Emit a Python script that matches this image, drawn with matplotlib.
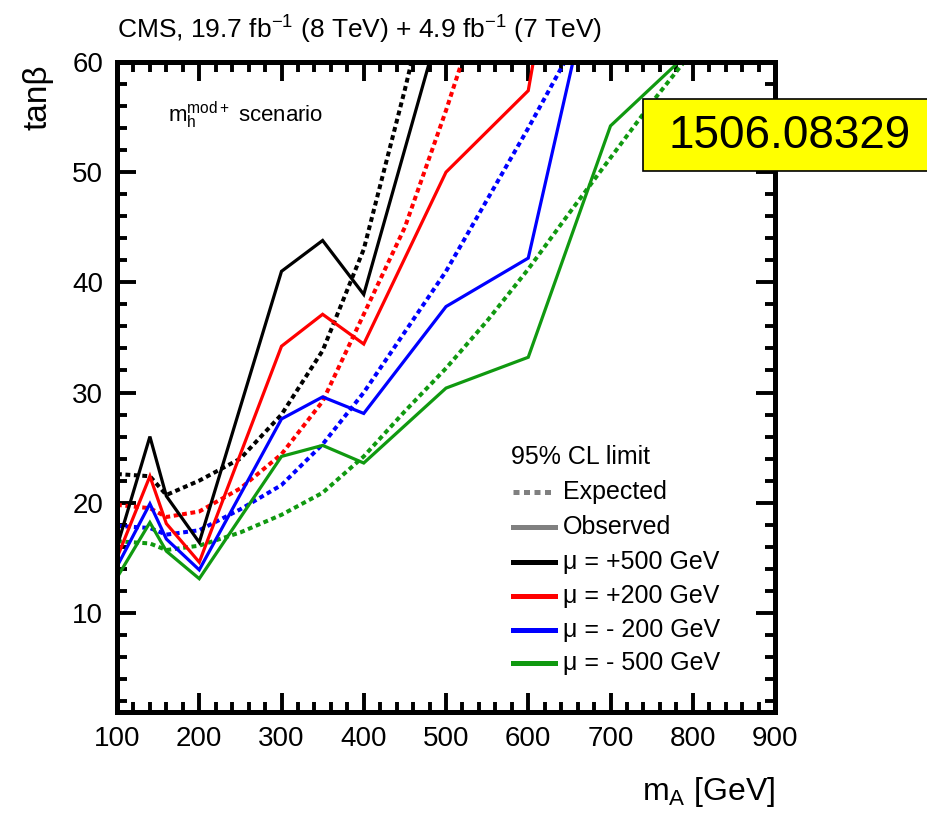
import matplotlib
matplotlib.use("Agg")
import matplotlib.pyplot as plt
from matplotlib.ticker import MultipleLocator
from matplotlib.lines import Line2D
from matplotlib.patches import Rectangle
from matplotlib import font_manager

# pick a Helvetica-like face
def pick_font(cands):
    for c in cands:
        try:
            font_manager.findfont(c, fallback_to_default=False)
            return c
        except Exception:
            pass
    return "DejaVu Sans"

SANS = pick_font(["Liberation Sans", "Arial", "DejaVu Sans"])
NARROW = pick_font(["Liberation Sans Narrow", SANS])

plt.rcParams["font.family"] = [SANS, "DejaVu Sans"]
plt.rcParams["mathtext.fontset"] = "custom"
plt.rcParams["mathtext.rm"] = SANS
plt.rcParams["mathtext.it"] = SANS + ":italic"
plt.rcParams["mathtext.bf"] = SANS + ":bold"

# observed limits (solid)
mA_obs = [100, 140, 160, 200, 300, 350, 400, 500, 600, 700, 800]
obs_mu_p500 = [16.0, 26.0, 20.6, 16.4, 41.0, 43.8, 38.9, 65.3]
obs_mu_p200 = [15.0, 22.4, 18.1, 14.6, 34.2, 37.1, 34.4, 50.0, 57.4, 100.0]
obs_mu_m200 = [14.2, 19.9, 16.7, 13.9, 27.6, 29.6, 28.1, 37.8, 42.2, 75.0]
obs_mu_m500 = [13.2, 18.2, 15.6, 13.1, 24.2, 25.2, 23.6, 30.4, 33.2, 54.2, 61.2]

# expected limits (dotted)
mA_exp = [100, 140, 160, 200, 250, 300, 350, 400, 450, 500, 550, 600, 650, 700, 750, 800]
exp_mu_p500 = [22.6, 22.4, 20.7, 22.0, 24.0, 28.0, 33.8, 43.0, 57.5, 73.0]
exp_mu_p200 = [19.8, 19.5, 18.7, 19.2, 21.3, 24.4, 29.2, 37.1, 45.0, 55.6, 67.0]
exp_mu_m200 = [17.9, 17.7, 17.1, 17.5, 19.4, 21.6, 25.3, 30.0, 35.5, 41.0, 47.5, 54.0, 60.8]
exp_mu_m500 = [16.5, 16.3, 15.7, 16.1, 17.3, 18.9, 20.9, 24.2, 28.3, 32.2, 36.5, 41.2, 46.3, 51.3, 56.3, 61.0]

mu_labels = ["\u03bc = +500 GeV", "\u03bc = +200 GeV", "\u03bc = - 200 GeV", "\u03bc = - 500 GeV"]
colors = ["black", "#ff0000", "#0000ff", "#109910"]

W, H = 927, 813
fig = plt.figure(figsize=(W / 100, H / 100), dpi=100)
ax = fig.add_axes([117 / W, 1 - 712 / H, (775 - 117) / W, (712 - 62) / H])

obs = [obs_mu_p500, obs_mu_p200, obs_mu_m200, obs_mu_m500]
exp = [exp_mu_p500, exp_mu_p200, exp_mu_m200, exp_mu_m500]
dot = (0, (1.2, 0.9))
for y_e, c in zip(exp, colors):
    ax.plot(mA_exp[:len(y_e)], y_e, color=c, lw=2.9, linestyle=dot,
            dash_capstyle="butt")
for y_o, c in zip(obs, colors):
    ax.plot(mA_obs[:len(y_o)], y_o, color=c, lw=2.3, solid_joinstyle="miter")

ax.set_xlim(100, 900)
ax.set_ylim(1, 60)
ax.xaxis.set_major_locator(MultipleLocator(100))
ax.xaxis.set_minor_locator(MultipleLocator(20))
ax.yaxis.set_major_locator(MultipleLocator(10))
ax.yaxis.set_minor_locator(MultipleLocator(2))
ax.set_yticks([10, 20, 30, 40, 50, 60])
ax.tick_params(which="both", direction="in", top=True, right=True,
               labelsize=20, width=2.8, colors="black")
ax.tick_params(axis="x", pad=10)
ax.tick_params(axis="y", pad=10)
ax.tick_params(which="major", length=13.5)
ax.tick_params(which="minor", length=7)
for s in ax.spines.values():
    s.set_linewidth(3.6)

fig.text(38 / W, 1 - 64 / H, "tan\u03b2", rotation=90, ha="center", va="top",
         fontsize=24)
fig.text(775 / W, 1 - 800 / H, r"m$_{\rm A}$ [GeV]", ha="right", va="baseline",
         fontsize=23)
fig.text(117 / W, 1 - 30 / H,
         r"CMS, 19.7 fb$^{-1}$ (8 TeV) + 4.9 fb$^{-1}$ (7 TeV)",
         ha="left", va="center", fontsize=19, family=[NARROW, "DejaVu Sans"])
fig.text(168 / W, 1 - 115 / H, r"m$_{\rm h}^{\rm mod+}$ scenario",
         ha="left", va="center", fontsize=16)

# legend block
lx0, lx1, tx = 513, 555, 563
rows = [457, 492, 527, 562, 596, 630, 663]
fig.text(511 / W, 1 - rows[0] / H, "95% CL limit", ha="left", va="center", fontsize=18)
hand_specs = [("#808080", dot, "Expected"), ("#808080", "-", "Observed")]
hand_specs += [(c, "-", l) for c, l in zip(colors, mu_labels)]
for (c, ls, lab), ry in zip(hand_specs, rows[1:]):
    yy = 1 - ry / H
    fig.add_artist(Line2D([lx0 / W, lx1 / W], [yy, yy], color=c, lw=3.6,
                          linestyle=ls, transform=fig.transFigure))
    fig.text(tx / W, yy, lab, ha="left", va="center", fontsize=18)

# arXiv reference box
fig.add_artist(Rectangle((643 / W, 1 - 171 / H), (940 - 643) / W, 72 / H,
                         transform=fig.transFigure, facecolor="#ffff00",
                         edgecolor="black", lw=1.2, clip_on=False))
fig.text(790 / W, 1 - 136 / H, "1506.08329", ha="center", va="center",
         fontsize=33)

fig.savefig("out.png", dpi=100)
